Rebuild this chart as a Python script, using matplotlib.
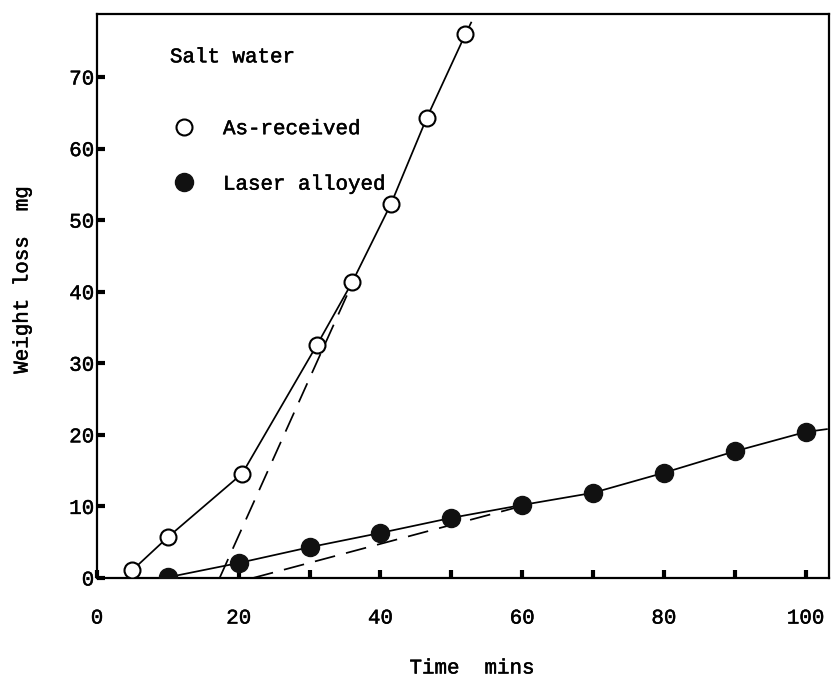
import matplotlib
matplotlib.use("Agg")
import matplotlib.pyplot as plt
import matplotlib.patheffects as pe
from matplotlib.lines import Line2D
from matplotlib.ticker import FixedLocator

# Data (time in mins, weight loss in mg)
ar_time = [5, 10, 20.5, 31, 36, 41.5, 46.5, 52]
ar_loss = [1.1, 5.7, 14.6, 32.5, 41.3, 52.3, 64.2, 76.0]
ar_line_time = ar_time + [52.8]      # solid line runs a little past the last point
ar_line_loss = ar_loss + [77.6]

la_time = [10, 20, 30, 40, 50, 60, 70, 80, 90, 100]
la_loss = [0.1, 2.1, 4.3, 6.3, 8.4, 10.2, 11.9, 14.7, 17.7, 20.4]
la_line_time = la_time + [103]
la_line_loss = la_loss + [20.8]

# dashed extrapolations of the steady rate back to the time axis
ar_dash_time = [17.3, 35.5]
ar_dash_loss = [0, 40]
la_dash_time = [22, 59]
la_dash_loss = [0, 9.8]

x_major = [0, 20, 40, 60, 80, 100]
x_minor = [30, 50, 70, 90]
y_major = [0, 10, 20, 30, 40, 50, 60, 70]

MONO = "Liberation Mono"
plt.rcParams["font.family"] = [MONO, "DejaVu Sans Mono"]

# typewriter look: thicken the thin strokes a little
INK = [pe.withStroke(linewidth=0.35, foreground="black")]

W, H = 839, 683
fig = plt.figure(figsize=(W / 100, H / 100), dpi=100)
ax = fig.add_axes([97 / W, 1 - 578 / H, (829 - 97) / W, (578 - 14) / H])

# solid curves
ax.plot(ar_line_time, ar_line_loss, color="black", lw=1.25, zorder=2)
ax.plot(la_line_time, la_line_loss, color="black", lw=1.25, zorder=2)

# dashed tangents
ax.plot(ar_dash_time, ar_dash_loss, color="black", lw=1.25, dashes=(12, 6.5), zorder=2)
ax.plot(la_dash_time, la_dash_loss, color="black", lw=1.25, dashes=(12, 6.5), zorder=2)

# markers
ax.plot(ar_time, ar_loss, linestyle="none", marker="o", ms=11.5, mfc="white",
        mec="black", mew=1.5, zorder=3)
ax.plot(la_time, la_loss, linestyle="none", marker="o", ms=13, mfc="#111111",
        mec="#111111", zorder=3)

ax.set_xlim(0, 103.3)
ax.set_ylim(0, 78.8)

ax.xaxis.set_major_locator(FixedLocator(x_major))
ax.xaxis.set_minor_locator(FixedLocator(x_minor))
ax.yaxis.set_major_locator(FixedLocator(y_major))
ax.set_xticklabels([str(v) for v in x_major])
ax.set_yticklabels([str(v) for v in y_major])

ax.tick_params(axis="both", which="both", direction="in", length=6, width=3,
               color="black", labelsize=15)
ax.tick_params(axis="x", which="major", pad=22)
ax.tick_params(axis="y", which="major", pad=2)
for lab in ax.get_xticklabels() + ax.get_yticklabels():
    lab.set_path_effects(INK)
for sp in ax.spines.values():
    sp.set_linewidth(1.6)

# axis titles
fig.text(472 / W, 1 - 668 / H, "Time  mins", ha="center", va="center", fontsize=15,
         path_effects=INK)
fig.text(22 / W, 1 - 280 / H, "Weight loss  mg", ha="center", va="center",
         rotation=90, fontsize=15, path_effects=INK)

# legend
ax.text(0.0997, 0.924, "Salt water", transform=ax.transAxes, ha="left",
        va="center", fontsize=15, path_effects=INK)
handles = [
    Line2D([], [], linestyle="none", marker="o", ms=11.5, mfc="white", mec="black", mew=1.5),
    Line2D([], [], linestyle="none", marker="o", ms=13, mfc="#111111", mec="#111111"),
]
leg = ax.legend(handles, ["As-received", "Laser alloyed"], loc="upper left",
                bbox_to_anchor=(0.091, 0.832), frameon=False, fontsize=15,
                handlelength=1.0, handletextpad=1.35, labelspacing=1.75, borderpad=0)
for t in leg.get_texts():
    t.set_path_effects(INK)

fig.savefig("out.png", dpi=100)
